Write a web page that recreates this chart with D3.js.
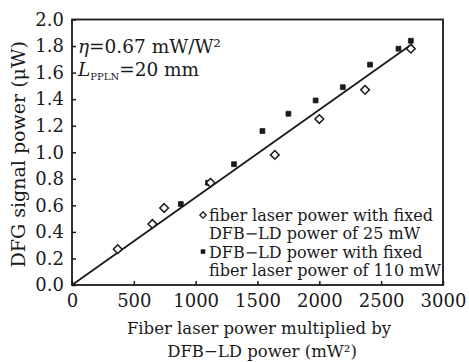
<!DOCTYPE html>
<html><head><meta charset="utf-8">
<script src="https://cdn.jsdelivr.net/npm/d3@7"></script>
<style>
html,body{margin:0;padding:0;background:#fff;}
svg{display:block;}
text{font-family:"DejaVu Serif",serif;fill:#1a1a1a;}
</style></head>
<body>
<script>
// Data
const fiberX = [370, 650, 745, 1120, 1640, 2000, 2370, 2740];
const fiberY = [0.27, 0.46, 0.58, 0.77, 0.98, 1.25, 1.47, 1.78];
const dfbX = [880, 1100, 1310, 1540, 1750, 1970, 2190, 2410, 2640, 2740];
const dfbY = [0.61, 0.77, 0.91, 1.16, 1.29, 1.39, 1.49, 1.66, 1.78, 1.84];
const fitX = [0, 2750];
const fitSlope = 0.00066;
const xTicks = [0, 500, 1000, 1500, 2000, 2500, 3000];
const yTicks = [0.0, 0.2, 0.4, 0.6, 0.8, 1.0, 1.2, 1.4, 1.6, 1.8, 2.0];
const legendLines = [
  ["fiber laser power with fixed", "DFB\u2212LD power of 25 mW"],
  ["DFB\u2212LD power with fixed", "fiber laser power of 110 mW"]
];

const W = 469, H = 362;
const m = {left: 72, right: 26, top: 19.5, bottom: 77};
const svg = d3.select("body").append("svg").attr("width", W).attr("height", H);
const x = d3.scaleLinear().domain([0, 3000]).range([m.left, W - m.right]);
const y = d3.scaleLinear().domain([0, 2.0]).range([H - m.bottom, m.top]);
const ink = "#1a1a1a";

// axes (inward ticks)
const xAxis = svg.append("g").attr("transform", `translate(0,${y(0)})`)
  .call(d3.axisBottom(x).tickValues(xTicks).tickSizeInner(-4).tickSizeOuter(0).tickPadding(9).tickFormat(d3.format("d")));
const yAxis = svg.append("g").attr("transform", `translate(${x(0)},0)`)
  .call(d3.axisLeft(y).tickValues(yTicks).tickSizeInner(-4).tickSizeOuter(0).tickPadding(8).tickFormat(d3.format(".1f")));
[xAxis, yAxis].forEach(g => {
  g.select(".domain").remove();
  g.selectAll(".tick line").attr("stroke", ink).attr("stroke-width", 1.5);
  g.selectAll(".tick text").attr("font-family", "DejaVu Serif").attr("font-size", 18).attr("fill", ink);
});
xAxis.selectAll(".tick text").attr("dy", "0.71em");

// frame
svg.append("rect").attr("x", x(0)).attr("y", y(2)).attr("width", x(3000) - x(0)).attr("height", y(0) - y(2))
  .attr("fill", "none").attr("stroke", ink).attr("stroke-width", 1.8);

// fit line
svg.append("line").attr("x1", x(fitX[0])).attr("y1", y(fitX[0] * fitSlope))
  .attr("x2", x(fitX[1])).attr("y2", y(fitX[1] * fitSlope))
  .attr("stroke", ink).attr("stroke-width", 1.8);

// markers
const diamond = d3.symbol().type(d3.symbolDiamond2).size(48);
const square = d3.symbol().type(d3.symbolSquare2).size(30);
svg.append("g").selectAll("path").data(dfbX.map((d, i) => [d, dfbY[i]])).join("path")
  .attr("d", square).attr("transform", d => `translate(${x(d[0])},${y(d[1])})`)
  .attr("fill", ink).attr("stroke", ink).attr("stroke-width", 0.8);
svg.append("g").selectAll("path").data(fiberX.map((d, i) => [d, fiberY[i]])).join("path")
  .attr("d", diamond).attr("transform", d => `translate(${x(d[0])},${y(d[1])})`)
  .attr("fill", "#fff").attr("stroke", ink).attr("stroke-width", 1.5);

// annotations
const ann = svg.append("g").attr("font-size", 18.5);
const a1 = ann.append("text").attr("x", 78).attr("y", 53);
a1.append("tspan").attr("font-style", "italic").text("\u03b7");
a1.append("tspan").text("=0.67 mW/W\u00b2");
const a2 = ann.append("text").attr("x", 78).attr("y", 76);
a2.append("tspan").attr("font-style", "italic").text("L");
a2.append("tspan").attr("font-size", 10).attr("dy", 4).text("PPLN");
a2.append("tspan").attr("dy", -4).text("=20 mm");

// legend
const lg = svg.append("g").attr("font-size", 16);
legendLines.forEach((lines, i) => {
  const by = 221 + i * 36.6;
  lg.append("path").attr("d", i === 0 ? d3.symbol().type(d3.symbolDiamond2).size(26)() : d3.symbol().type(d3.symbolSquare2).size(20)())
    .attr("transform", `translate(203,${by - 6})`)
    .attr("fill", i === 0 ? "#fff" : ink).attr("stroke", ink).attr("stroke-width", i === 0 ? 1.3 : 0.6);
  lg.append("text").attr("x", 209).attr("y", by).text(lines[0]);
  lg.append("text").attr("x", 209).attr("y", by + 18.3).text(lines[1]);
});

// axis titles
svg.append("text").attr("transform", `translate(25,${(y(0) + y(2)) / 2 + 2}) rotate(-90)`)
  .attr("text-anchor", "middle").attr("font-size", 19).text("DFG signal power (\u03bcW)");
svg.append("text").attr("x", 259).attr("y", 334).attr("text-anchor", "middle").attr("font-size", 16.5)
  .text("Fiber laser power multiplied by");
svg.append("text").attr("x", 262).attr("y", 357).attr("text-anchor", "middle").attr("font-size", 16.5)
  .text("DFB\u2212LD power (mW\u00b2)");
</script>
</body></html>
